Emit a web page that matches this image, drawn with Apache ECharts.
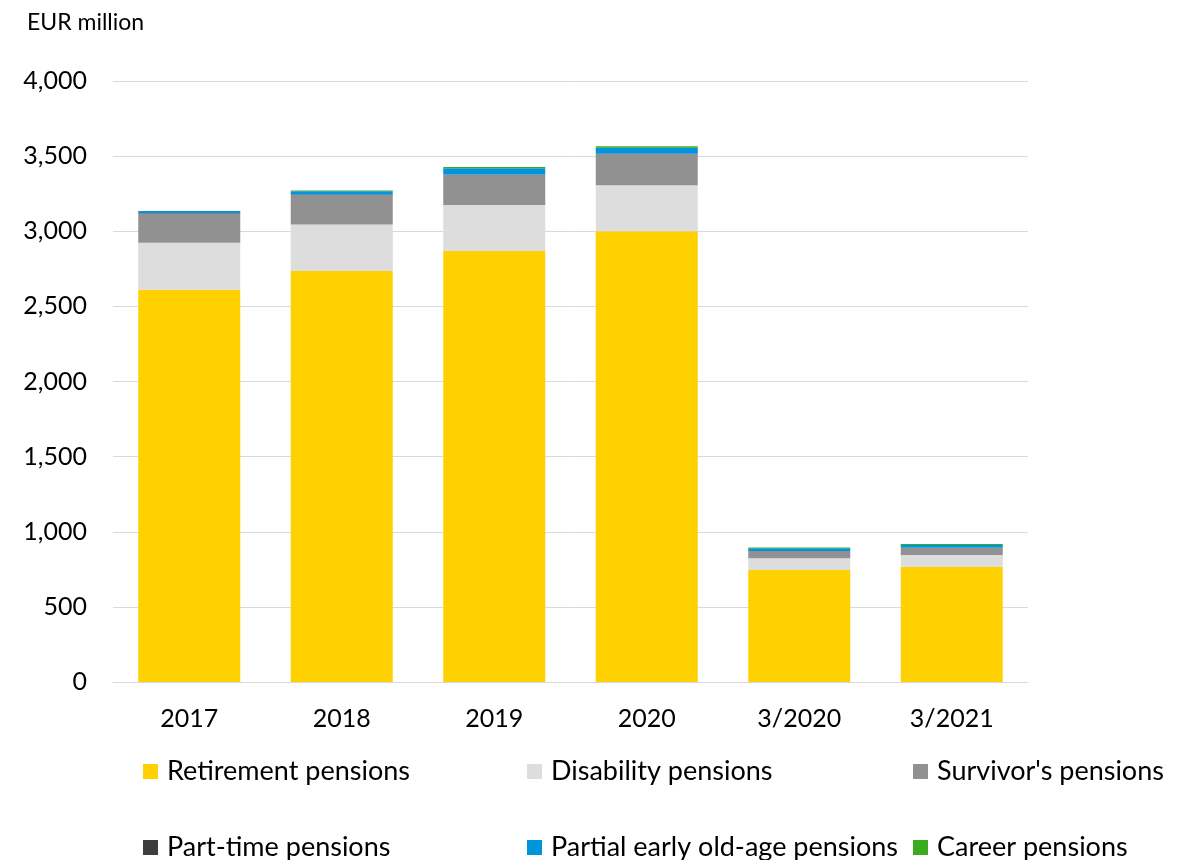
<!DOCTYPE html>
<html>
<head>
<meta charset="utf-8">
<script src="https://cdn.jsdelivr.net/npm/echarts@6/dist/echarts.min.js"></script>
<style>html,body{margin:0;padding:0;background:#fff;}#c{width:1187px;height:860px;}</style>
</head>
<body>
<div id="c"></div>
<script>
const categories = ['2017', '2018', '2019', '2020', '3/2020', '3/2021'];
const seriesNames = ['Retirement pensions', 'Disability pensions', "Survivor's pensions", 'Part-time pensions', 'Partial early old-age pensions', 'Career pensions'];
const retirement = [2610, 2735, 2869, 3000, 745, 767];
const disability = [313, 310, 306, 306, 78, 78];
const survivor = [195, 194, 201, 208, 49, 49];
const partTime = [4, 5, 2, 1, 0, 0];
const partialEarly = [12, 22, 42, 40, 18, 18];
const career = [0, 6, 7, 11, 6, 7];
const yTicks = [0, 500, 1000, 1500, 2000, 2500, 3000, 3500, 4000];

const colors = ['#FFD100', '#DDDDDD', '#919191', '#403D3D', '#0094DC', '#3AAA1E'];
const values = [retirement, disability, survivor, partTime, partialEarly, career];
const FONT = 'Lato';

const chart = echarts.init(document.getElementById('c'), null, {renderer: 'canvas'});
const legendPos = [[143, 758], [527, 758], [913, 758], [143, 834], [527, 834], [913, 834]];

chart.setOption({
  animation: false,
  textStyle: {fontFamily: FONT},
  title: {text: 'EUR million', left: 22, top: 6, textStyle: {fontFamily: FONT, fontSize: 23, fontWeight: 'normal', color: '#000'}},
  grid: {left: 113, right: 159, top: 81, bottom: 178},
  legend: seriesNames.map((n, i) => ({
    data: [n], left: legendPos[i][0], top: legendPos[i][1],
    itemWidth: 15, itemHeight: 15, itemGap: 0,
    icon: 'rect',
    textStyle: {fontFamily: FONT, fontSize: 27, color: '#000', padding: [0, 0, 0, 4]},
    padding: 0
  })),
  xAxis: {
    type: 'category', data: categories,
    axisLine: {lineStyle: {color: '#d9d9d9'}},
    axisTick: {show: false},
    axisLabel: {fontFamily: FONT, fontSize: 25, color: '#000', margin: 24}
  },
  yAxis: {
    type: 'value', min: 0, max: yTicks[yTicks.length - 1], interval: 500,
    axisLine: {show: false}, axisTick: {show: false},
    splitLine: {lineStyle: {color: '#d9d9d9'}},
    axisLabel: {fontFamily: FONT, fontSize: 25, color: '#000', margin: 26,
      formatter: v => v.toLocaleString('en-US')}
  },
  series: seriesNames.map((n, i) => ({
    name: n, type: 'bar', stack: 'total', data: values[i],
    barWidth: 102,
    itemStyle: {color: colors[i]}
  }))
});
</script>
</body>
</html>
